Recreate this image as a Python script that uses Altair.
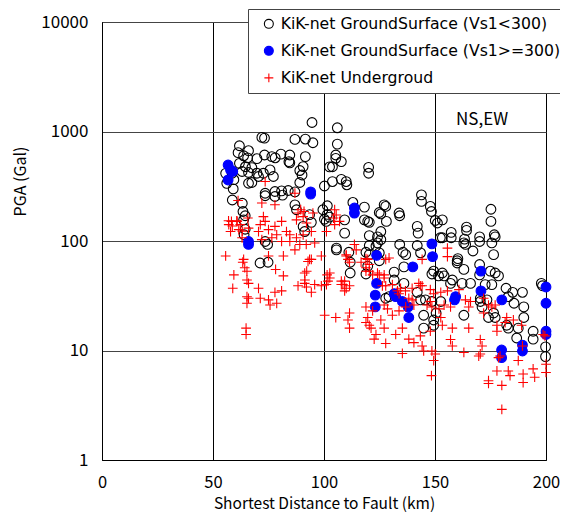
import altair as alt
import pandas as pd

S1 = "KiK-net GroundSurface (Vs1<300)"
S2 = "KiK-net GroundSurface (Vs1>=300)"
S3 = "KiK-net Undergroud"

# Ground surface, Vs1<300 (distance km, PGA Gal)
soft_x = [55.7, 56.2, 59.1, 58.7, 63.2, 63.5, 64.5, 63.8, 64.5, 64.0, 74.6, 71.2, 74.8,
          94.6, 72.0, 73.2, 86.9, 91.6, 95.0, 61.9, 66.0, 61.3, 63.8, 65.6, 69.8, 73.2,
          76.5, 78.0, 80.6, 84.6, 84.2, 84.6, 91.6, 90.6, 89.1, 90.1, 89.1, 100.2, 102.5,
          61.9, 64.6, 67.5, 63.1, 66.0, 69.8, 70.5, 72.7, 75.7, 77.2, 58.6, 59.4, 67.5,
          66.0, 73.5, 77.9, 80.9, 83.9, 86.9, 73.5, 77.9, 81.3, 86.9, 87.6, 93.5, 94.3,
          99.5, 100.2, 101.0, 90.6, 91.3, 73.5, 106.0, 106.0, 105.3, 105.3, 103.8, 107.8,
          120.1, 120.1, 103.8, 107.8, 110.0, 110.3, 113.0, 118.2, 127.1, 127.8, 124.9,
          125.6, 133.8, 134.1, 143.9, 143.9, 147.9, 148.4, 109.3, 118.2, 119.7, 120.4,
          128.1, 125.6, 124.1, 120.4, 142.0, 142.4, 150.1, 152.4, 109.3, 105.6, 105.6,
          111.2, 120.4, 123.4, 124.1, 125.6, 118.9, 120.4, 124.9, 134.1, 135.6, 136.8,
          142.0, 143.5, 101.5, 101.5, 102.5, 175.2, 175.2, 153.3, 151.1, 157.3, 157.3,
          164.2, 164.2, 163.3, 153.3, 170.1, 170.1, 176.7, 177.1, 175.6, 176.4, 163.0,
          163.8, 167.1, 160.3, 111.8, 111.8, 119.7, 118.9, 124.9, 131.6, 136.0, 131.6,
          136.0, 127.8, 129.3, 142.0, 143.5, 148.6, 149.4, 151.6, 145.7, 148.6, 144.9,
          144.9, 149.4, 149.4, 150.5, 160.0, 160.0, 163.0, 170.1, 170.1, 174.9, 177.1,
          178.6, 153.3, 154.1, 157.0, 157.8, 162.2, 166.0, 172.6, 175.6, 182.0, 185.0,
          189.4, 170.4, 170.4, 173.4, 171.2, 183.0, 185.6, 190.0, 152.6, 176.4, 174.1,
          177.1, 190.0, 182.3, 183.0, 187.5, 186.8, 194.2, 194.2, 197.9, 198.4, 199.8,
          199.8, 163.0]
soft_y = [415, 336, 299, 237, 221, 186, 170, 156, 128, 114, 93, 63, 64,
          1208, 883, 870, 847, 853, 789, 741, 668, 641, 600, 575, 565, 610,
          590, 575, 622, 610, 530, 517, 590, 478, 440, 401, 342, 318, 475,
          512, 477, 468, 431, 422, 416, 388, 416, 446, 388, 416, 363, 342,
          337, 273, 283, 287, 289, 281, 259, 255, 262, 214, 193, 174, 148,
          193, 158, 151, 136, 122, 99, 1081, 767, 610, 569, 477, 531,
          471, 416, 349, 366, 349, 326, 225, 204, 214, 207, 182,
          177, 180, 170, 264, 230, 207, 186, 156, 156, 151, 148,
          151, 122, 109, 112, 136, 118, 154, 107, 118, 86, 83,
          79, 91, 90, 96, 103, 79, 75, 78, 93, 79, 75,
          91, 78, 210, 175, 165, 195, 151, 156, 146, 120, 107,
          134, 125, 104, 107, 109, 99, 114, 109, 96, 75, 96,
          93, 81, 69, 64, 51, 59, 50, 66, 52, 58, 44,
          41, 30, 31, 34, 29, 50, 53, 48, 29, 28, 21,
          16, 19, 17, 22, 66, 63, 55, 61, 49, 53, 51,
          48, 51, 48, 41, 44, 41, 41, 40, 40, 37, 34,
          34, 30, 28, 29, 25, 31, 27, 25, 28, 22, 20,
          20, 20, 17, 16, 16, 13, 15, 12.7, 41, 39, 10.8,
          8.8, 21]

# Ground surface, Vs1>=300
hard_x = [56.8, 57.9, 58.9, 56.8, 94.0, 94.0, 66.0, 66.0, 113.7, 113.7, 123.7, 148.6,
          148.9, 140.0, 123.7, 123.1, 123.1, 131.6, 132.3, 135.3, 137.9, 138.2, 170.7,
          170.7, 159.3, 158.8, 180.1, 200.0, 200.0, 200.0, 200.0, 180.0, 180.0, 189.4,
          189.4]
hard_y = [494, 446, 431, 361, 281, 268, 99, 93, 200, 180, 74, 94,
          72, 58, 41, 32, 25, 33, 31, 28, 25, 20, 53,
          35, 31, 29, 29, 38, 27, 15, 14, 10.1, 8.6, 11.2,
          9.9]

# Underground
deep_x = [73.5, 86.9, 61.3, 72.0, 77.9, 89.5, 91.0, 95.0, 88.3, 58.3, 57.1, 60.9, 62.3,
          72.7, 73.5, 71.3, 80.9, 77.9, 87.6, 90.6, 92.1, 57.9, 61.6, 66.0, 70.5, 75.0,
          78.7, 83.1, 84.6, 87.6, 90.6, 94.3, 63.1, 72.0, 76.5, 80.9, 84.6, 89.1, 92.0,
          95.8, 55.7, 63.8, 75.0, 81.7, 86.9, 93.5, 98.8, 57.0, 58.7, 60.7, 63.2, 65.7,
          63.4, 64.3, 65.3, 59.4, 58.9, 65.3, 66.0, 70.5, 71.3, 78.2, 81.7, 80.9, 77.9,
          65.3, 65.3, 66.0, 75.0, 75.7, 78.7, 64.9, 64.9, 88.3, 91.3, 92.1, 95.8, 94.3,
          98.8, 101.4, 91.3, 92.8, 94.3, 92.2, 91.4, 104.8, 105.5, 104.3, 107.0, 104.8,
          101.1, 110.0, 113.7, 114.5, 119.7, 120.4, 118.9, 121.9, 127.8, 129.3, 109.3,
          107.8, 110.0, 101.1, 102.6, 100.3, 124.9, 127.1, 126.3, 130.8, 133.8, 136.7,
          139.7, 143.4, 121.9, 102.6, 101.8, 107.8, 108.5, 109.3, 111.5, 111.5, 116.7,
          118.9, 120.4, 124.1, 127.1, 127.8, 133.1, 134.5, 138.2, 139.7, 142.7, 144.2,
          147.9, 149.4, 147.9, 148.6, 146.4, 127.1, 128.6, 130.8, 133.8, 136.8, 140.5,
          105.3, 111.5, 110.8, 111.5, 118.9, 119.7, 118.9, 120.4, 121.2, 123.4, 122.6,
          127.1, 125.6, 127.8, 132.3, 135.3, 138.2, 140.5, 143.4, 144.2, 144.9, 147.9,
          148.6, 150.1, 149.4, 148.4, 135.3, 110.0, 110.8, 118.9, 144.2, 155.6, 155.6,
          152.6, 155.6, 154.1, 151.8, 157.0, 160.8, 163.7, 166.0, 165.2, 171.9, 174.1,
          175.6, 177.1, 171.9, 182.3, 185.3, 181.6, 189.0, 152.6, 153.3, 157.8, 165.2,
          177.9, 177.9, 157.0, 157.8, 163.0, 170.4, 171.2, 170.4, 169.7, 178.6, 179.3,
          187.5, 189.4, 198.7, 199.5, 200.0, 200.0, 177.9, 183.0, 183.8, 189.7, 194.2,
          194.9, 189.7, 174.1, 174.1, 180.1, 180.1]
deep_y = [349, 273, 234, 222, 214, 193, 186, 180, 180, 151, 141, 151, 141,
          167, 151, 141, 151, 136, 156, 167, 146, 122, 127, 131, 122, 127,
          114, 122, 114, 107, 114, 122, 107, 103, 107, 99, 99, 93, 93,
          96, 73, 68, 73, 73, 83, 68, 73, 153, 137, 153, 123, 162,
          64, 57, 53, 49, 37, 44, 41, 37, 30, 55, 48, 35, 34,
          31, 27, 30, 29, 26, 27, 16, 14, 39, 41, 38, 40, 34,
          39, 49, 51, 65, 68, 53, 44, 193, 173, 162, 151, 141,
          122, 75, 93, 83, 68, 61, 53, 49, 68, 70, 43,
          40, 37, 40, 46, 21, 49, 46, 39, 40, 33, 35,
          29, 39, 23, 51, 43, 43, 40, 35, 39, 64, 64,
          57, 53, 51, 49, 39, 35, 37, 30, 37, 41, 39,
          36, 33, 28, 25, 26, 26, 24, 21, 23, 25, 26,
          20, 22, 19, 16, 25, 20, 18, 17, 16, 14, 12.7,
          16, 19, 11.6, 14, 16, 12.7, 11.8, 13.6, 11, 9.9, 15,
          9.9, 9.3, 8.1, 5.9, 9.4, 73, 68, 69, 68, 86, 72,
          34, 35, 26, 24, 25, 36, 29, 28, 25, 30, 26,
          25, 26, 22, 20, 19, 18, 17, 20, 17, 16, 16,
          17, 15, 12.6, 11, 9.6, 12.6, 11, 9.3, 8.9, 8.6, 8.9,
          8.1, 11, 14, 13.6, 7.5, 6.3, 6.5, 6.5, 5.9, 6.1, 6.8,
          5.7, 5.1, 5.3, 5.0, 4.8, 2.9]

x_ticks = [0, 50, 100, 150, 200]
y_ticks = [1, 10, 100, 1000, 10000]
series = [S1, S2, S3]

rows = []
for name, xs, ys in [(S1, soft_x, soft_y), (S2, hard_x, hard_y), (S3, deep_x, deep_y)]:
    for a, b in zip(xs, ys):
        rows.append({"dist": a, "pga": b, "series": name})
df = pd.DataFrame(rows)

note = pd.DataFrame({"dist": [171.2], "pga": [1274], "label": ["NS,EW"]})

FONT = "Noto Sans CJK JP"
LFONT = "DejaVu Sans"

xenc = alt.X("dist:Q", scale=alt.Scale(domain=[0, 200], nice=False),
             axis=alt.Axis(values=x_ticks, title="Shortest Distance to Fault (km)",
                           grid=True, gridColor="#000000", gridOpacity=1, gridWidth=1,
                           ticks=False, tickSize=0, labelPadding=14, labelFontSize=16.5,
                           labelFont=FONT, labelColor="#000000", titleFont=FONT,
                           titleFontSize=15.5, titleFontWeight="normal", titleColor="#000000",
                           titlePadding=6, domainColor="#000000", labelFlush=False))
yenc = alt.Y("pga:Q", scale=alt.Scale(type="log", domain=[1, 10000], nice=False),
             axis=alt.Axis(values=y_ticks, format="d", title="PGA (Gal)",
                           grid=True, gridColor="#444444", gridOpacity=1, gridWidth=1,
                           ticks=False, tickSize=0, labelPadding=14, labelFontSize=17,
                           labelFont=FONT, labelColor="#000000", titleFont=FONT,
                           titleFontSize=16, titleFontWeight="normal", titleColor="#000000",
                           titleX=-82, titleY=159, titleBaseline="middle",
                           domainColor="#000000", labelFlush=False))

points = alt.Chart(df).mark_point(opacity=1, strokeWidth=1.1, size=95).encode(
    x=xenc,
    y=yenc,
    shape=alt.Shape("series:N", scale=alt.Scale(domain=series,
                    range=["circle", "circle", "M-1,0L1,0M0,-1L0,1"]),
                    legend=alt.Legend(title=None)),
    stroke=alt.Stroke("series:N", scale=alt.Scale(domain=series,
                      range=["#000000", "#0000ff", "#ff0000"]),
                      legend=alt.Legend(title=None)),
    fill=alt.Fill("series:N", scale=alt.Scale(domain=series,
                  range=["transparent", "#0000ff", "transparent"]),
                  legend=alt.Legend(title=None)),
)

text = alt.Chart(note).mark_text(font=FONT, fontSize=17, color="#000000").encode(
    x="dist:Q", y="pga:Q", text="label:N")

chart = alt.layer(points, text).properties(
    width=444, height=438,
    autosize=alt.AutoSizeParams(type="none"),
    padding={"left": 94, "top": 14, "right": 14, "bottom": 54},
).configure_view(stroke="#000000", strokeWidth=1).configure_legend(
    orient="none", legendX=146, legendY=-13,
    fillColor="#ffffff", strokeColor="#444444", padding=7,
    labelFont=LFONT, labelFontSize=15.7, labelColor="#000000", labelLimit=400,
    rowPadding=10, symbolSize=80, symbolStrokeWidth=1.1, symbolOffset=6,
    labelOffset=4,
)

chart.save("out.html", embed_options={"renderer": "svg", "actions": False})
